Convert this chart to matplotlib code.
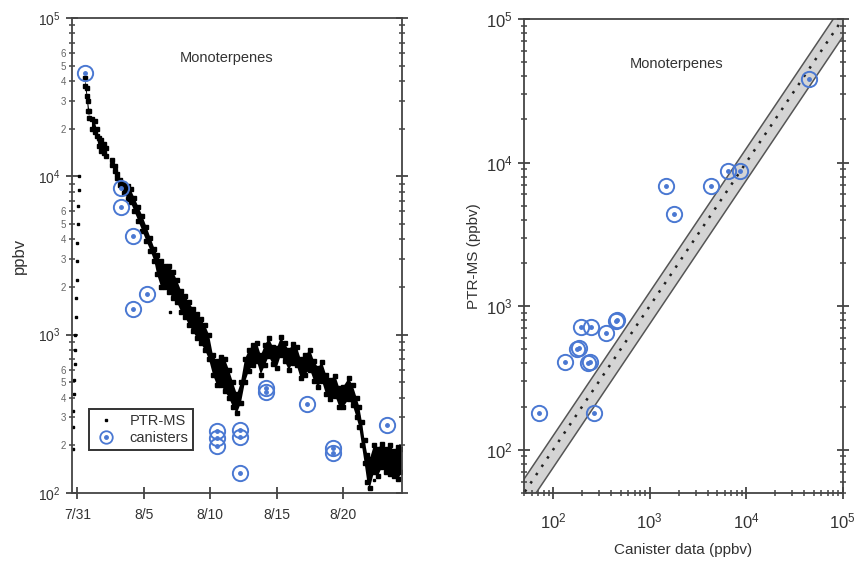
import numpy as np
import matplotlib
matplotlib.use("Agg")
import matplotlib.pyplot as plt
from matplotlib.ticker import LogLocator, FuncFormatter, FixedLocator, NullFormatter
from matplotlib.lines import Line2D
from matplotlib.legend_handler import HandlerTuple

plt.rcParams['font.family'] = ['Liberation Sans', 'DejaVu Sans']

blue = '#4a78d2'
txt = '#333333'

# ---- PTR-MS time series (days after 7/31), read as lower / upper envelope ----
rise_day = [-0.35, -0.32, -0.29, -0.26, -0.23, -0.2, -0.17, -0.14, -0.11, -0.08, -0.05, -0.02, 0.01, 0.04, 0.07, 0.1, 0.13]
rise_val = [190, 260, 330, 420, 520, 650, 800, 1000, 1300, 1700, 2200, 2900, 3800, 5000, 6500, 8200, 10000]

ptr_day = [0.6, 0.7, 0.8, 0.9, 1.0, 1.1, 1.3, 1.45, 1.6, 1.8, 2.0, 2.15, 2.35,
           2.6, 2.8, 3.0, 3.2, 3.5, 3.8, 4.0, 4.3, 4.6, 4.9, 5.2, 5.5, 5.8, 6.0,
           6.3, 6.6, 6.9, 7.2, 7.5, 7.8, 8.1, 8.4, 8.7, 9.0, 9.3, 9.6, 9.9, 10.2,
           10.5, 10.8, 11.1, 11.4, 11.7, 12.0, 12.3, 12.6, 12.9, 13.2, 13.5, 13.8,
           14.1, 14.4, 14.7, 15.0, 15.3, 15.6, 15.9, 16.2, 16.5, 16.8, 17.1, 17.5,
           17.8, 18.1, 18.4, 18.7, 19.0, 19.4, 19.7, 20.0, 20.4, 20.7, 21.0, 21.2,
           21.4, 21.6, 21.8, 22.0, 22.3, 22.6, 22.9, 23.2, 23.5, 23.8, 24.1, 24.4]
ptr_lo = [37000, 32000, 26000, 23500, np.nan, 20000, 19000, 18000, 15500, 14500, 14000, 13500, np.nan,
          11800, 10800, 9700, 8800, 7900, 7200, 6900, 6000, 5200, 4500, 3900, 3400, 2900, 2400,
          2000, 2000, 1850, 1700, 1600, 1400, 1300, 1150, 1050, 950, 880, 800, 700, 560,
          480, 480, 440, 400, 350, 320, 370, 500, 590, 640, 680, 560,
          640, 730, 650, 620, 740, 680, 600, 660, 640, 530, 560, 600,
          510, 470, 510, 420, 390, 410, 350, 350, 390, 360, 300, 260,
          200, 155, 118, 108, 135, 128, 145, 136, 132, 128, 122, 135]
ptr_hi = [42000, 36000, 30000, 26000, np.nan, 23000, 22500, 20000, 17500, 17000, 16000, 15000, np.nan,
          12600, 11600, 10400, 9500, 9000, 8700, 8300, 7300, 6400, 5600, 4800, 4100, 3500, 3200,
          2900, 2700, 2700, 2500, 2200, 1900, 1750, 1600, 1450, 1350, 1250, 1150, 1000, 740,
          680, 720, 700, 600, 500, 420, 500, 700, 800, 860, 890, 740,
          860, 950, 840, 820, 960, 880, 800, 870, 840, 700, 740, 800,
          680, 620, 670, 560, 520, 550, 460, 470, 530, 480, 400, 350,
          280, 215, 175, 165, 200, 190, 205, 190, 200, 185, 195, 190]
stray_day = [7.0, 8.9, 10.4, 21.9, 22.3, 24.2]
stray_val = [1400, 1150, 560, 107, 120, 125]

# canister samples on the time axis
can_day = [0.6, 3.3, 3.3, 4.2, 4.2, 5.25, 10.5, 10.5, 10.5, 12.2, 12.2, 12.2, 14.2, 14.2, 17.3, 19.2, 19.2, 23.3]
can_val = [45000, 8500, 6400, 4200, 1460, 1820, 245, 222, 198, 250, 226, 134, 436, 460, 366, 193, 179, 270]

# ---- canister vs PTR-MS scatter ----
cmp_can = [71, 133, 178, 185, 196, 245, 240, 230, 265, 355, 450, 460, 1470, 1800, 4300, 6500, 8700, 45000]
cmp_ptr = [180, 410, 500, 510, 720, 720, 410, 400, 180, 650, 790, 800, 6900, 4400, 6900, 8700, 8700, 38000]

date_pos = [0, 5, 10, 15, 20]
date_lbl = ['7/31', '8/5', '8/10', '8/15', '8/20']


def minor_lbl(v, pos):
    m = v / 10 ** np.floor(np.log10(v) + 1e-9)
    m = int(round(m))
    return str(m) if 2 <= m <= 6 else ''


def style_axes(ax):
    for s in ax.spines.values():
        s.set_linewidth(1.3)
        s.set_color('#444444')
    ax.tick_params(which='major', direction='inout', length=9, width=1.3, colors='#444444',
                   labelcolor=txt, labelsize=10)
    ax.tick_params(which='minor', direction='inout', length=5, width=1.1, colors='#444444')


fig = plt.figure(figsize=(8.59, 5.65), dpi=100)

# ---------------- left panel ----------------
ax1 = fig.add_axes([0.0838, 0.1274, 0.384, 0.8407])
ax1.set_yscale('log')
ax1.set_xlim(-0.4, 24.4)
ax1.set_ylim(100, 1e5)

ax1.fill_between(ptr_day, ptr_lo, ptr_hi, color='black', lw=0)
ax1.plot(ptr_day, ptr_lo, ls='none', marker='s', ms=2.6, color='black')
ax1.plot(ptr_day, ptr_hi, ls='none', marker='s', ms=2.6, color='black')
ax1.plot(rise_day, rise_val, ls='none', marker='s', ms=1.6, color='black')
ax1.plot(stray_day, stray_val, ls='none', marker='s', ms=1.8, color='black')

ax1.plot(can_day, can_val, ls='none', marker='o', ms=11, mfc='none', mec=blue, mew=1.4)
ax1.plot(can_day, can_val, ls='none', marker='o', ms=2.5, color=blue)

ax1.xaxis.set_major_locator(FixedLocator(date_pos))
ax1.set_xticklabels(date_lbl)
ax1.yaxis.set_major_locator(LogLocator(base=10, numticks=10))
ax1.yaxis.set_minor_locator(LogLocator(base=10, subs=np.arange(2, 10), numticks=20))
ax1.yaxis.set_minor_formatter(FuncFormatter(minor_lbl))
ax1.tick_params(axis='y', which='both', right=True)
ax1.tick_params(axis='x', which='both', top=False)
style_axes(ax1)
ax1.tick_params(axis='x', which='major', pad=6)
ax1.tick_params(axis='y', which='minor', labelsize=7, labelcolor='#666666', pad=2)
ax1.set_ylabel('ppbv', fontsize=12, color=txt, labelpad=8)
ax1.text(0.47, 0.915, 'Monoterpenes', transform=ax1.transAxes, ha='center', va='center',
         fontsize=10.5, color=txt)

h_ptr = Line2D([], [], ls='none', marker='s', ms=2, color='black')
h_ring = Line2D([], [], ls='none', marker='o', ms=9, mfc='none', mec=blue, mew=1.3)
h_dot = Line2D([], [], ls='none', marker='o', ms=2.5, color=blue)
leg = ax1.legend([h_ptr, (h_ring, h_dot)], ['PTR-MS', 'canisters'],
                 handler_map={tuple: HandlerTuple(ndivide=1)},
                 loc='lower left', bbox_to_anchor=(0.03, 0.075), fontsize=10.5,
                 fancybox=False, framealpha=1, edgecolor='#333333',
                 handlelength=1.6, handletextpad=0.8, borderpad=0.35, labelspacing=0.2)
leg.get_frame().set_linewidth(1.4)
for t in leg.get_texts():
    t.set_color(txt)

# ---------------- right panel ----------------
ax2 = fig.add_axes([0.610, 0.1274, 0.371, 0.839])
ax2.set_xscale('log')
ax2.set_yscale('log')
ax2.set_xlim(50, 1e5)
ax2.set_ylim(50, 1e5)

ref = np.array([30, 2e5])
ax2.fill_between(ref, ref * 0.75, ref * 1.25, color='#d4d4d4', lw=0)
ax2.plot(ref, ref * 0.75, color='#555555', lw=1.1)
ax2.plot(ref, ref * 1.25, color='#555555', lw=1.1)
ax2.plot(ref, ref, color='#222222', lw=1.8, ls=(0, (1, 3)))

ax2.plot(cmp_can, cmp_ptr, ls='none', marker='o', ms=11, mfc='none', mec=blue, mew=1.4)
ax2.plot(cmp_can, cmp_ptr, ls='none', marker='o', ms=2.5, color=blue)

for a in (ax2.xaxis, ax2.yaxis):
    a.set_major_locator(LogLocator(base=10, numticks=10))
    a.set_minor_locator(LogLocator(base=10, subs=np.arange(2, 10), numticks=20))
    a.set_minor_formatter(NullFormatter())
ax2.tick_params(axis='y', which='both', right=True)
ax2.tick_params(axis='x', which='both', top=False)
style_axes(ax2)
ax2.tick_params(which='major', labelsize=12)
ax2.tick_params(axis='x', which='major', pad=9)
ax2.set_xlabel('Canister data (ppbv)', fontsize=11, color=txt, labelpad=8)
ax2.set_ylabel('PTR-MS (ppbv)', fontsize=11, color=txt, labelpad=4)
ax2.text(0.48, 0.905, 'Monoterpenes', transform=ax2.transAxes, ha='center', va='center',
         fontsize=10.5, color=txt)

fig.savefig('out.png', dpi=100)
